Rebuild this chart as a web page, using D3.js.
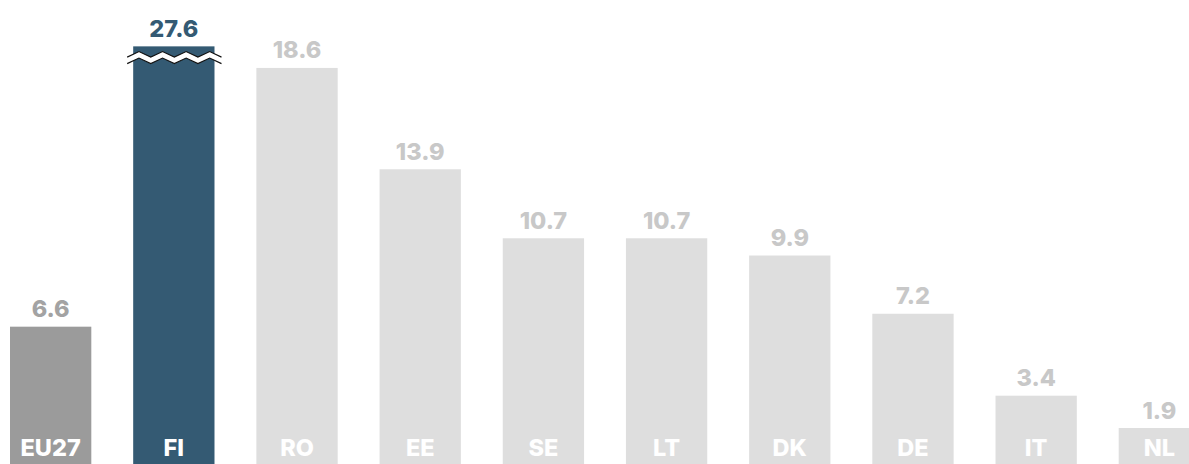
<!DOCTYPE html>
<html>
<head>
<meta charset="utf-8">
<script src="https://cdn.jsdelivr.net/npm/d3@7"></script>
<style>
  html, body { margin: 0; padding: 0; background: #fff; }
  svg { display: block; }
  text { font-family: Inter, "Noto Sans", sans-serif; font-weight: 800; }
</style>
</head>
<body>
<svg id="chart" width="1189" height="464"></svg>
<script>
const categories = ["EU27", "FI", "RO", "EE", "SE", "LT", "DK", "DE", "IT", "NL"];
const values = [6.6, 27.6, 18.6, 13.9, 10.7, 10.7, 9.9, 7.2, 3.4, 1.9];
// Bars above this value are shortened and drawn with a break mark
const axisCap = 19.6;

const barColor = c => c === "FI" ? "#345a73" : c === "EU27" ? "#9b9b9b" : "#dedede";
const labelColor = c => c === "FI" ? "#345a73" : c === "EU27" ? "#a3a3a3" : "#c8c8c8";

const data = categories.map((c, i) => ({ cat: c, value: values[i] }));

const svg = d3.select("#chart");

const x = d3.scaleBand().domain(categories).range([10, 1200]).paddingInner(0.34).paddingOuter(0);
const y = d3.scaleLinear().domain([0, 21.75]).range([469, 0]);

const shown = d => Math.min(d.value, axisCap);

svg.selectAll("rect.bar").data(data).join("rect")
  .attr("class", "bar")
  .attr("x", d => x(d.cat))
  .attr("width", x.bandwidth())
  .attr("y", d => y(shown(d)))
  .attr("height", d => y(0) - y(shown(d)))
  .attr("fill", d => barColor(d.cat));

// Value labels above each bar
svg.selectAll("text.val").data(data).join("text")
  .attr("class", "val")
  .attr("x", d => x(d.cat) + x.bandwidth() / 2)
  .attr("y", d => y(shown(d)) - 9.5)
  .attr("text-anchor", "middle")
  .attr("font-size", 23.5)
  .attr("fill", d => labelColor(d.cat))
  .text(d => d.value.toFixed(1));

// Category labels inside the bars
svg.selectAll("text.cat").data(data).join("text")
  .attr("class", "cat")
  .attr("x", d => x(d.cat) + x.bandwidth() / 2)
  .attr("y", 456)
  .attr("text-anchor", "middle")
  .attr("font-size", 23.5)
  .attr("fill", "#ffffff")
  .text(d => d.cat);

// Break mark across truncated bars
const broken = data.filter(d => d.value > axisCap);
broken.forEach(d => {
  const x0 = x(d.cat) - 6, x1 = x(d.cat) + x.bandwidth() + 7;
  const top = y(axisCap);
  const yA = top + 8, gap = 6.5, amp = 2.8;
  const n = 8;
  const pts = d3.range(n + 1).map(i => [x0 + (x1 - x0) * i / n, (i % 2 ? -amp : amp)]);
  const upper = pts.map(p => [p[0], yA + p[1]]);
  const lower = pts.map(p => [p[0], yA + gap + p[1]]);
  const line = d3.line();
  svg.append("path")
    .attr("d", line(upper.concat(lower.slice().reverse())) + "Z")
    .attr("fill", "#ffffff");
  [upper, lower].forEach(seg => {
    svg.append("path")
      .attr("d", line(seg))
      .attr("fill", "none")
      .attr("stroke", "#111")
      .attr("stroke-width", 1.2);
  });
});
</script>
</body>
</html>
